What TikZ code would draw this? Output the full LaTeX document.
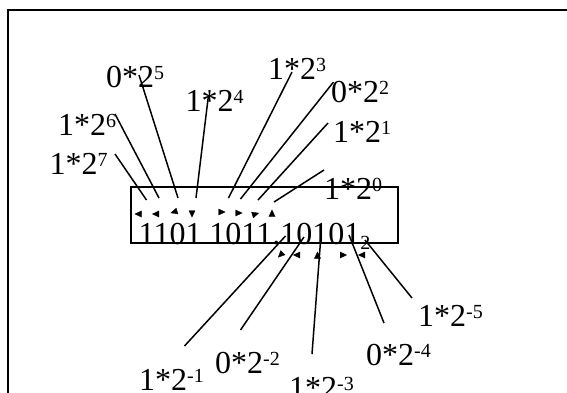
\documentclass[tikz,border=0pt]{standalone}
\usepackage{fontspec}
\setmainfont{Liberation Serif}
\usetikzlibrary{arrows.meta}
\newcommand\supx[1]{\raisebox{8pt}{\fontsize{20}{20}\selectfont #1}}
\newcommand\subx[1]{\raisebox{-5pt}{\fontsize{20}{20}\selectfont #1}}
\begin{document}
\begin{tikzpicture}[x=1pt,y=-1pt,
  lab/.style={anchor=base west,inner sep=0pt,font=\fontsize{32}{32}\selectfont},
  conn/.style={line width=1.5pt},
  tip/.style={-{Triangle[length=7pt,width=6.5pt]},line width=0.3pt}]
\useasboundingbox (0,0) rectangle (567,392);
\clip (0,0) rectangle (567,392);
\draw[line width=2.2pt] (8,440) -- (8,10) -- (640,10);
\node[draw,line width=1.6pt,minimum width=267pt,minimum height=56pt,inner sep=0pt,anchor=north west] (box) at (130,186) {};
\node[lab] (num) at (138.5,244) {1101 1011.10101\subx{2}};
% labels
\node[lab] (l5) at (106,87) {0*2\supx{5}};
\node[lab] (l4) at (185.5,111) {1*2\supx{4}};
\node[lab] (l3) at (268,79) {1*2\supx{3}};
\node[lab] (l2) at (331,102) {0*2\supx{2}};
\node[lab] (l6) at (58,135) {1*2\supx{6}};
\node[lab] (l1) at (333,142) {1*2\supx{1}};
\node[lab] (l7) at (49.5,174) {1*2\supx{7}};
\node[lab] (l0) at (324,199) {1*2\supx{0}};
\node[lab] (m5) at (418,326) {1*2\supx{-5}};
\node[lab] (m4) at (366,365) {0*2\supx{-4}};
\node[lab] (m1) at (139,390) {1*2\supx{-1}};
\node[lab] (m2) at (215,373) {0*2\supx{-2}};
\node[lab] (m3) at (289,398) {1*2\supx{-3}};
% connector ends
\coordinate (s7) at (115,154);   \coordinate (e7) at (146.5,200);
\coordinate (s6) at (115,114);   \coordinate (e6) at (159,198);
\coordinate (s5) at (139,75);    \coordinate (e5) at (178,198);
\coordinate (s4) at (208.5,95);  \coordinate (e4) at (196,198);
\coordinate (s3) at (292,72);    \coordinate (e3) at (228.5,198);
\coordinate (s2) at (333.5,82);  \coordinate (e2) at (240.5,199);
\coordinate (s1) at (328,123);   \coordinate (e1) at (258,200);
\coordinate (s0) at (324,170);   \coordinate (e0) at (274,202);
\coordinate (t1) at (184.5,346); \coordinate (f1) at (285.5,236);
\coordinate (t2) at (240.5,330); \coordinate (f2) at (304,237);
\coordinate (t3) at (312,354);   \coordinate (f3) at (321,235);
\coordinate (t4) at (384,323);   \coordinate (f4) at (349,235);
\coordinate (t5) at (412,298);   \coordinate (f5) at (365,240);
\foreach \a/\b in {s7/e7,s6/e6,s5/e5,s4/e4,s3/e3,s2/e2,s1/e1,s0/e0,t1/f1,t2/f2,t3/f3,t4/f4,t5/f5}
  \draw[conn] (\a) -- (\b);
% detached arrowheads
\coordinate (h7) at (134.5,214); \draw[tip] (h7) ++(2,0) -- (h7);
\coordinate (h6) at (152,214);   \draw[tip] (h6) ++(2,0) -- (h6);
\coordinate (h5) at (170.5,213); \draw[tip] (h5) ++(2,-0.6) -- (h5);
\coordinate (h4) at (192,217.5); \draw[tip] (h4) ++(0,-2) -- (h4);
\coordinate (h3) at (225.5,212); \draw[tip] (h3) ++(-2,0) -- (h3);
\coordinate (h2) at (242.5,213); \draw[tip] (h2) ++(-2,0) -- (h2);
\coordinate (h1) at (259,213);   \draw[tip] (h1) ++(-2,0.6) -- (h1);
\coordinate (h0) at (272,209.5); \draw[tip] (h0) ++(0,2) -- (h0);
\coordinate (g1) at (278,257.5); \draw[tip] (g1) ++(1.5,-1.5) -- (g1);
\coordinate (g2) at (293,255);   \draw[tip] (g2) ++(2,0) -- (g2);
\coordinate (g3) at (317.5,251.5); \draw[tip] (g3) ++(0,2) -- (g3);
\coordinate (g4) at (347,255);   \draw[tip] (g4) ++(-2,0) -- (g4);
\coordinate (g5) at (358,255);   \draw[tip] (g5) ++(2,0) -- (g5);
\end{tikzpicture}
\end{document}
